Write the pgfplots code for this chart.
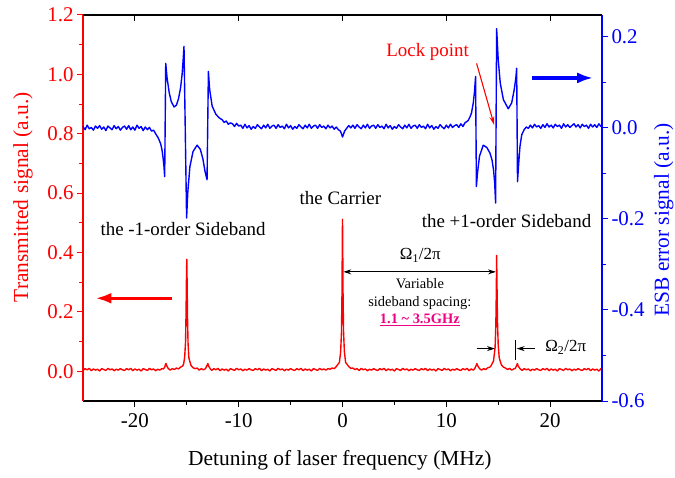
\documentclass[border=0pt]{standalone}
\usepackage{fontspec}
\setmainfont{Liberation Serif}
\usepackage{pgfplots}
\pgfplotsset{compat=1.18}
\usetikzlibrary{arrows.meta}
\pgfplotsset{/pgf/number format/assume math mode=true}

\definecolor{hotpink}{RGB}{240,0,130}
\newcommand\tickf{\fontsize{21}{24}\selectfont}
\newcommand\labf{\fontsize{21.5}{24}\selectfont}
\newcommand\annf{\fontsize{19}{22}\selectfont}
\newcommand\smallf{\fontsize{14.5}{17}\selectfont}

\begin{document}
\begin{tikzpicture}
\useasboundingbox (-83bp,-77bp) rectangle (592bp,401bp);

% transmitted signal (left axis, red)
\begin{axis}[
    scale only axis, width=519bp, height=386bp,
    xmin=-25, xmax=25, ymin=-0.1, ymax=1.2,
    clip=false,
    axis x line*=bottom, axis y line*=left,
    x axis line style={-, black, line width=1.1pt},
    y axis line style={-, red, line width=1.1pt},
    tick align=outside,
    major tick length=6bp, minor tick length=3.5bp,
    xtick={-20,-10,0,10,20}, minor xtick={-15,-5,5,15},
    ytick={0,0.2,0.4,0.6,0.8,1.0,1.2}, minor ytick={0.1,0.3,0.5,0.7,0.9,1.1},
    x tick style={black, line width=1pt},
    y tick style={red, line width=1pt},
    xticklabel style={font=\tickf, black, yshift=-3bp},
    yticklabel style={font=\tickf, red},
    yticklabel={\pgfmathprintnumber[fixed,fixed zerofill,precision=1]{\tick}},
]
\addplot[red, line width=1.4pt, line join=round] coordinates {
(-25,.003)(-24.8,.009)(-24.6,.005)(-24.4,.010)(-24.2,.002)(-24.0,.008)(-23.8,.004)(-23.6,.007)
(-23.4,.001)(-23.2,.009)(-23.0,.006)(-22.8,.003)(-22.6,.010)(-22.4,.005)(-22.2,.008)(-22.0,.002)
(-21.8,.007)(-21.6,.004)(-21.4,.009)(-21.2,.005)(-21.0,.003)(-20.8,.009)(-20.6,.005)(-20.4,.010)
(-20.2,.002)(-20.0,.008)(-19.8,.004)(-19.6,.007)(-19.4,.001)(-19.2,.009)(-19.0,.006)(-18.8,.003)
(-18.6,.010)(-18.4,.005)(-18.2,.008)(-18.0,.002)(-17.8,.007)(-17.6,.004)(-17.4,.009)
(-17.25,.008)(-17.12,.014)(-17.05,.024)(-17.0,.026)(-16.95,.02)(-16.8,.010)(-16.6,.004)
(-16.4,.009)(-16.2,.006)(-16.0,.011)(-15.8,.008)(-15.6,.014)(-15.4,.018)(-15.3,.025)(-15.2,.05)
(-15.12,.1)(-15.07,.2)(-15.03,.32)(-15.0,.377)(-14.97,.3)(-14.93,.18)(-14.88,.095)(-14.8,.045)
(-14.6,.02)(-14.4,.012)(-14.2,.009)(-14.0,.011)(-13.8,.004)(-13.6,.009)(-13.4,.005)(-13.2,.009)
(-13.05,.02)(-12.97,.026)(-12.9,.018)(-12.75,.009)(-12.6,.003)(-12.4,.009)
(-12.2,.005)(-12.0,.010)(-11.8,.002)(-11.6,.008)(-11.4,.004)(-11.2,.007)(-11.0,.001)(-10.8,.009)
(-10.6,.006)(-10.4,.003)(-10.2,.010)(-10.0,.005)(-9.8,.008)(-9.6,.002)(-9.4,.007)(-9.2,.004)
(-9.0,.009)(-8.8,.005)(-8.6,.003)(-8.4,.009)(-8.2,.005)(-8.0,.010)(-7.8,.002)(-7.6,.008)
(-7.4,.004)(-7.2,.007)(-7.0,.001)(-6.8,.009)(-6.6,.006)(-6.4,.003)(-6.2,.010)(-6.0,.005)
(-5.8,.008)(-5.6,.002)(-5.4,.007)(-5.2,.004)(-5.0,.009)(-4.8,.005)(-4.6,.003)(-4.4,.009)
(-4.2,.005)(-4.0,.010)(-3.8,.002)(-3.6,.008)(-3.4,.004)(-3.2,.007)(-3.0,.001)(-2.8,.009)
(-2.6,.006)(-2.4,.003)(-2.2,.010)(-2.0,.005)(-1.8,.008)(-1.6,.004)(-1.4,.009)(-1.2,.007)
(-1.0,.011)(-0.8,.009)(-0.6,.016)(-0.3,.03)(-0.18,.065)(-0.1,.13)(-0.05,.26)(-0.02,.42)
(0.0,.512)(0.02,.43)(0.05,.27)(0.1,.135)(0.18,.066)(0.3,.03)(0.6,.016)(0.8,.010)(1.0,.011)
(1.2,.006)(1.4,.009)(1.6,.003)(1.8,.010)(2.0,.005)(2.2,.008)(2.4,.002)(2.6,.007)(2.8,.004)
(3.0,.009)(3.2,.005)(3.4,.003)(3.6,.009)(3.8,.005)(4.0,.010)(4.2,.002)(4.4,.008)(4.6,.004)
(4.8,.007)(5.0,.001)(5.2,.009)(5.4,.006)(5.6,.003)(5.8,.010)(6.0,.005)(6.2,.008)(6.4,.002)
(6.6,.007)(6.8,.004)(7.0,.009)(7.2,.005)(7.4,.003)(7.6,.009)(7.8,.005)(8.0,.010)(8.2,.002)
(8.4,.008)(8.6,.004)(8.8,.007)(9.0,.001)(9.2,.009)(9.4,.006)(9.6,.003)(9.8,.010)(10.0,.005)
(10.2,.008)(10.4,.002)(10.6,.007)(10.8,.004)(11.0,.009)(11.2,.005)(11.4,.003)(11.6,.009)
(11.8,.005)(12.0,.010)(12.2,.002)(12.4,.008)(12.6,.004)(12.75,.01)(12.88,.02)(12.95,.026)
(13.02,.019)(13.2,.009)(13.4,.004)(13.6,.009)(13.8,.006)(14.0,.012)(14.2,.014)(14.3,.018)
(14.55,.035)(14.7,.08)(14.77,.15)(14.82,.27)(14.85,.39)(14.88,.3)(14.93,.17)(15.0,.09)
(15.1,.045)(15.3,.022)(15.5,.014)(15.7,.011)(15.9,.006)(16.1,.010)(16.3,.004)(16.5,.008)
(16.65,.01)(16.78,.02)(16.85,.026)(16.92,.018)(17.1,.009)(17.3,.003)(17.5,.009)(17.7,.005)
(17.9,.008)(18.1,.002)(18.3,.007)(18.5,.004)(18.7,.009)(18.9,.005)(19.1,.003)(19.3,.009)
(19.5,.005)(19.7,.010)(19.9,.002)(20.1,.008)(20.3,.004)(20.5,.007)(20.7,.001)(20.9,.009)
(21.1,.006)(21.3,.003)(21.5,.010)(21.7,.005)(21.9,.008)(22.1,.002)(22.3,.007)(22.5,.004)
(22.7,.009)(22.9,.005)(23.1,.003)(23.3,.009)(23.5,.005)(23.7,.010)(23.9,.002)(24.1,.008)
(24.3,.004)(24.5,.007)(24.7,.001)(24.9,.009)(25,.006)
};

% annotations
\node[font=\annf] at (axis cs:-15.36,0.479) {the -1-order Sideband};
\node[font=\annf] at (axis cs:-0.2,0.583) {the Carrier};
\node[font=\annf] at (axis cs:15.8,0.506) {the +1-order Sideband};
\node[font=\annf, red] at (axis cs:8.2,1.075) {Lock point};
\draw[red, line width=1.1pt, -{Stealth[length=9pt,width=5pt]}] (axis cs:12.92,1.037) -- (axis cs:14.62,0.829);

\draw[blue, line width=3.5pt, -{Latex[length=16bp,width=11bp]}] (axis cs:18.26,0.988) -- (axis cs:24.15,0.988);
\draw[red, line width=3.5pt, -{Latex[length=16bp,width=11bp]}] (axis cs:-16.4,0.246) -- (axis cs:-23.8,0.246);

\draw[line width=0.9pt, {Stealth[length=8pt,width=5pt]}-{Stealth[length=8pt,width=5pt]}] (axis cs:0.08,0.335) -- (axis cs:14.78,0.335);
\node[font=\fontsize{17}{20}\selectfont] at (axis cs:7.5,0.39) {Ω\textsubscript{1}/2π};
\node[font=\smallf] at (axis cs:7.45,0.296) {Variable};
\node[font=\smallf] at (axis cs:7.45,0.230) {sideband spacing:};
\node[font=\smallf\bfseries, text=hotpink] at (axis cs:7.45,0.172) {\underline{1.1 \textasciitilde{} 3.5GHz}};

\draw[line width=0.9pt, -{Stealth[length=8pt,width=5pt]}] (axis cs:12.92,0.0765) -- (axis cs:14.69,0.0765);
\draw[line width=0.9pt] (axis cs:16.69,0.104) -- (axis cs:16.69,0.037);
\draw[line width=0.9pt, -{Stealth[length=8pt,width=5pt]}] (axis cs:18.55,0.0765) -- (axis cs:16.78,0.0765);
\node[anchor=west, font=\fontsize{17}{20}\selectfont] at (axis cs:19.2,0.081) {Ω\textsubscript{2}/2π};

\node[red, rotate=90, font=\labf] at (axis description cs:-0.1156,0.528) {Transmitted signal (a.u.)};
\node[font=\labf, anchor=base] at (axis description cs:0.495,-0.166) {Detuning of laser frequency (MHz)};
\end{axis}

% top ticks
\begin{axis}[
    scale only axis, width=519bp, height=386bp,
    xmin=-25, xmax=25, ymin=0, ymax=1,
    axis x line*=top, axis y line=none,
    x axis line style={-, black, line width=1.1pt},
    tick align=inside, major tick length=6bp,
    xtick={-20,-10,0,10,20}, xticklabels={},
    x tick style={black, line width=1pt},
]
\end{axis}

% ESB error signal (right axis, blue)
\begin{axis}[
    scale only axis, width=519bp, height=386bp,
    xmin=-25, xmax=25, ymin=-0.6, ymax=0.248,
    clip=false,
    axis x line=none, axis y line*=right,
    y axis line style={-, blue, line width=1.1pt},
    tick align=outside,
    major tick length=6bp, minor tick length=3.5bp,
    ytick={-0.6,-0.4,-0.2,0,0.2}, minor ytick={-0.5,-0.3,-0.1,0.1},
    y tick style={blue, line width=1pt},
    yticklabel style={font=\tickf, blue},
    yticklabel={\pgfmathprintnumber[fixed,fixed zerofill,precision=1]{\tick}},
]
\addplot[blue, line width=1.4pt, line join=round] coordinates {
(-25,.003)(-24.8,-.004)(-24.6,.006)(-24.4,-.002)(-24.2,.001)(-24.0,-.005)(-23.8,.004)(-23.6,-.001)
(-23.4,.005)(-23.2,-.003)(-23.0,.002)(-22.8,-.006)(-22.6,.004)(-22.4,.0)(-22.2,-.004)(-22.0,.005)
(-21.8,-.002)(-21.6,.003)(-21.4,-.005)(-21.2,.001)(-21.0,.004)(-20.8,-.003)(-20.6,.005)(-20.4,-.004)
(-20.2,.002)(-20.0,-.005)(-19.8,.006)(-19.6,-.001)(-19.4,.003)(-19.2,-.006)(-19.0,.002)(-18.8,-.004)
(-18.6,.001)(-18.4,-.007)(-18.2,-.005)(-18.0,-.013)(-17.75,-.022)(-17.52,-.035)
(-17.4,-.047)(-17.29,-.065)(-17.2,-.085)(-17.13,-.107)(-17.03,.142)(-16.9,.11)(-16.7,.078)
(-16.5,.058)(-16.23,.046)(-16.0,.05)(-15.8,.064)(-15.6,.088)(-15.45,.118)(-15.35,.15)
(-15.27,.179)(-15.02,-.198)(-14.9,-.14)(-14.7,-.085)(-14.4,-.052)(-14.01,-.038)
(-13.7,-.047)(-13.45,-.068)(-13.25,-.095)(-13.05,-.114)(-12.92,.124)(-12.8,.085)
(-12.56,.048)(-12.2,.03)(-11.88,.022)(-11.6,.018)(-11.4,.012)(-11.2,.015)(-11.0,.008)(-10.8,.011)
(-10.6,.009)(-10.4,.003)(-10.2,.010)(-10.0,.004)(-9.8,.006)(-9.6,-.001)(-9.4,.008)(-9.2,.0)
(-9.0,.005)(-8.8,-.003)(-8.6,.003)(-8.4,-.001)(-8.2,.007)(-8.0,.002)(-7.8,-.002)(-7.6,.006)
(-7.4,.0)(-7.2,.008)(-7.0,-.001)(-6.8,.004)(-6.6,.006)(-6.4,-.001)(-6.2,.007)(-6.0,.001)
(-5.8,.004)(-5.6,-.002)(-5.4,.008)(-5.2,.0)(-5.0,.005)(-4.8,-.003)(-4.6,.003)(-4.4,-.001)
(-4.2,.007)(-4.0,.002)(-3.8,-.002)(-3.6,.006)(-3.4,.0)(-3.2,.008)(-3.0,-.001)(-2.8,.004)
(-2.6,.006)(-2.4,-.001)(-2.2,.007)(-2.0,.001)(-1.8,.004)(-1.6,-.002)(-1.4,.006)(-1.2,.0)
(-1.0,.004)(-0.8,-.003)(-0.6,.002)(-0.4,-.004)(-0.2,-.007)(-0.1,-.013)(0.0,-.02)(0.1,-.014)
(0.2,-.007)(0.4,-.001)(0.6,.005)(0.8,.0)(1.0,.006)(1.2,-.001)(1.4,.007)(1.6,.002)
(1.8,-.002)(2.0,.006)(2.2,.0)(2.4,.008)(2.6,-.001)(2.8,.004)(3.0,.006)(3.2,-.001)
(3.4,.007)(3.6,.001)(3.8,.004)(4.0,-.002)(4.2,.008)(4.4,.0)(4.6,.005)(4.8,-.003)
(5.0,.003)(5.2,-.001)(5.4,.007)(5.6,.002)(5.8,-.002)(6.0,.006)(6.2,.0)(6.4,.008)
(6.6,-.001)(6.8,.004)(7.0,.006)(7.2,-.001)(7.4,.007)(7.6,.001)(7.8,.004)(8.0,-.002)
(8.2,.008)(8.4,.0)(8.6,.005)(8.8,-.003)(9.0,.003)(9.2,-.001)(9.4,.007)(9.6,.002)
(9.8,-.002)(10.0,.006)(10.2,.0)(10.4,.008)(10.6,.001)(10.8,.005)(11.0,.007)(11.2,.001)
(11.4,.009)(11.6,.003)(11.79,.011)(12.1,.016)(12.3,.025)(12.43,.033)(12.6,.055)(12.72,.08)
(12.82,.113)(12.9,-.129)(13.0,-.1)(13.2,-.062)(13.56,-.038)(13.9,-.043)(14.2,-.055)(14.4,-.07)
(14.55,-.092)(14.66,-.12)(14.75,-.165)(14.85,.218)(15.0,.15)(15.2,.098)(15.5,.062)
(15.97,.042)(16.3,.055)(16.55,.085)(16.7,.11)(16.78,.131)(16.86,-.118)(17.0,-.07)
(17.1,-.04)(17.27,-.015)(17.5,-.004)(17.7,.002)(17.9,-.001)(18.1,.006)(18.3,.0)(18.5,.008)
(18.7,.002)(18.9,.005)(19.1,-.001)(19.3,.007)(19.5,.001)(19.7,.009)(19.9,.002)(20.1,.006)
(20.3,.0)(20.5,.008)(20.7,.003)(20.9,.006)(21.1,-.001)(21.3,.009)(21.5,.002)(21.7,.007)
(21.9,.001)(22.1,.005)(22.3,.009)(22.5,.002)(22.7,.007)(22.9,.0)(23.1,.008)(23.3,.003)
(23.5,.006)(23.7,-.001)(23.9,.008)(24.1,.002)(24.3,.007)(24.5,.001)(24.7,.009)(24.9,.003)
(25,.005)
};
\node[blue, rotate=90, font=\labf] at (axis description cs:1.119,0.469) {ESB error signal (a.u.)};
\end{axis}
\end{tikzpicture}
\end{document}
